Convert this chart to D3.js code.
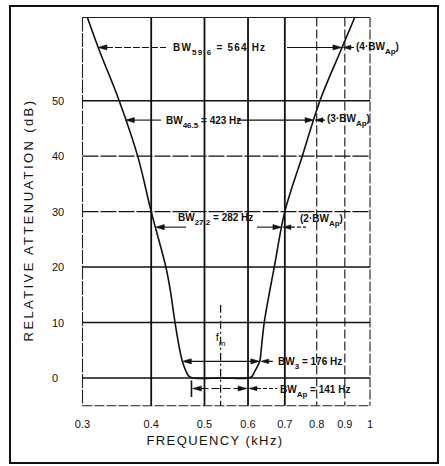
<!DOCTYPE html>
<html>
<head>
<meta charset="utf-8">
<script src="https://cdn.jsdelivr.net/npm/d3@7"></script>
<style>
  html, body { margin: 0; padding: 0; background: #fff; }
  svg { display: block; }
  text { font-family: "Liberation Sans", Arial, sans-serif; fill: #111; }
</style>
</head>
<body>
<svg id="chart" width="445" height="466"></svg>
<script>
// ---------- data ----------
const curveFreq  = [0.3062, 0.3218, 0.3498, 0.378, 0.400, 0.4254, 0.433, 0.442, 0.4509, 0.4557, 0.4628, 0.4686, 0.476, 0.540, 0.6018, 0.6102, 0.6172, 0.6302, 0.6339, 0.6421, 0.658, 0.6697, 0.700, 0.7531, 0.8109, 0.8852, 0.938];
const curveAtten = [65,     59.1,   50,     40,    30,    20,     16,    10,    5,      3,      1.2,    0.3,    0,     0,     0,      0.3,    1.2,    3,      5,      10,     16,    20,     30,    40,     50,     59.1,   65];

const xTickValues = [0.3, 0.4, 0.5, 0.6, 0.7, 0.8, 0.9, 1];
const xTickLabels = ["0.3", "0.4", "0.5", "0.6", "0.7", "0.8", "0.9", "1"];
const yTickValues = [0, 10, 20, 30, 40, 50];
const yTickLabels = ["0", "10", "20", "30", "40", "50"];

const bwLevels = [59.6, 46.5, 27.2, 3];
const bwLeft   = [0.320, 0.359, 0.407, 0.4557];
const bwRight  = [0.889, 0.791, 0.6915, 0.6302];
const bwSubs   = ["59.6", "46.5", "27.2", "3"];
const bwHz     = ["564", "423", "282", "176"];
const bwMult   = ["4", "3", "2", null];

const apLevel = -1.9, apLeft = 0.4735, apRight = 0.600, apHz = "141";
const fm = 0.535;

// ---------- scales ----------
const svg = d3.select("#chart");
const x = d3.scaleLog().domain([0.3, 1]).range([82.5, 370]);
const y = d3.scaleLinear().domain([-5, 65]).range([405.7, 17.5]);
const x0 = x(0.3), x1 = x(1), yT = y(65), yB = y(-5);

// outer frame
svg.append("rect").attr("x", 10).attr("y", 6).attr("width", 428).attr("height", 457)
  .attr("fill", "none").attr("stroke", "#111").attr("stroke-width", 2);

// plot frame
const frame = svg.append("g").attr("stroke", "#222").attr("fill", "none");
frame.append("line").attr("x1", x0).attr("x2", x0).attr("y1", yT).attr("y2", yB).attr("stroke-width", 1.1).attr("stroke-dasharray", "14,1.5");
frame.append("line").attr("x1", x0).attr("x2", x1).attr("y1", yT).attr("y2", yT).attr("stroke-width", 1.1);
frame.append("line").attr("x1", x1).attr("x2", x1).attr("y1", yT).attr("y2", yB).attr("stroke-width", 1.1).attr("stroke-dasharray", "10,2");
frame.append("line").attr("x1", x0).attr("x2", x1).attr("y1", yB).attr("y2", yB).attr("stroke-width", 1.1).attr("stroke-dasharray", "10,2");

// grid
const grid = svg.append("g").attr("stroke", "#111");
grid.selectAll("line.h").data(yTickValues).join("line")
  .attr("x1", x0).attr("x2", x1).attr("y1", d => y(d)).attr("y2", d => y(d))
  .attr("stroke-width", d => (d === 30 || d === 40) ? 1.2 : 1.5)
  .attr("stroke-dasharray", d => (d === 30 || d === 40) ? "16,2" : null);
grid.selectAll("line.v").data(xTickValues.filter(v => v > 0.3 && v < 1)).join("line")
  .attr("x1", d => x(d)).attr("x2", d => x(d)).attr("y1", yT).attr("y2", yB)
  .attr("stroke-width", d => d <= 0.7 ? 1.8 : 1.1)
  .attr("stroke-dasharray", d => d <= 0.7 ? null : "9,3");

// fm line
svg.append("line").attr("x1", x(fm)).attr("x2", x(fm)).attr("y1", y(13.2)).attr("y2", yB)
  .attr("stroke", "#111").attr("stroke-width", 1.2).attr("stroke-dasharray", "8,3,2,3");
const fmT = svg.append("text").attr("x", x(fm) - 5).attr("y", y(6.6)).attr("font-size", 11);
fmT.append("tspan").text("f");
fmT.append("tspan").attr("dy", 5).attr("font-size", 8).text("m");

// tick labels
svg.selectAll("text.yt").data(yTickValues).join("text")
  .attr("x", 52).attr("y", d => y(d) + 4).attr("font-size", 11).text((d, i) => yTickLabels[i]);
svg.selectAll("text.xt").data(xTickValues).join("text")
  .attr("x", d => x(d)).attr("y", 428).attr("text-anchor", "middle").attr("font-size", 11)
  .text((d, i) => xTickLabels[i]);

// axis titles
svg.append("text").attr("transform", "translate(33,220) rotate(-90)").attr("text-anchor", "middle")
  .attr("font-size", 13).attr("letter-spacing", 2.4).text("RELATIVE ATTENUATION (dB)");
svg.append("text").attr("x", 215).attr("y", 445).attr("text-anchor", "middle")
  .attr("font-size", 13).attr("letter-spacing", 1.4).text("FREQUENCY (kHz)");

// curve
const line = d3.line().x((d, i) => x(curveFreq[i])).y(d => y(d)).curve(d3.curveCatmullRom.alpha(0.5));
svg.append("path").attr("d", line(curveAtten)).attr("fill", "none").attr("stroke", "#111").attr("stroke-width", 1.6);

// ---------- annotations ----------
const ann = svg.append("g").attr("stroke", "#111").attr("fill", "#111");
function head(tip, yy, dir, len = 9, hw = 2.6) {
  ann.append("path").attr("d", `M${tip},${yy}L${tip - dir * len},${yy - hw}L${tip - dir * len},${yy + hw}Z`).attr("stroke-width", 0.5);
}
function seg(a, b, yy, dash) {
  ann.append("line").attr("x1", a).attr("x2", b).attr("y1", yy).attr("y2", yy)
    .attr("stroke-width", 1.1).attr("stroke-dasharray", dash || null);
}
function bwText(px, py, sub, rest, fs = 10) {
  const t = svg.append("text").attr("x", px).attr("y", py).attr("font-size", fs).attr("font-weight", "bold");
  t.append("tspan").text("BW");
  t.append("tspan").attr("dy", 4).attr("font-size", fs - 2).text(sub);
  t.append("tspan").attr("dy", -4).text(rest);
  return t;
}
function multText(px, py, m) {
  const t = svg.append("text").attr("x", px).attr("y", py).attr("font-size", 10).attr("font-weight", "bold");
  t.append("tspan").text(`(${m}·BW`);
  t.append("tspan").attr("dy", 4).attr("font-size", 8).text("Ap");
  t.append("tspan").attr("dy", -4).text(")");
}
const layout = [
  { le: 166, tx: 173, ty: 4,  rs: 287, mx: 356, my: 3, ls: 1.2, dashL: "7,2" },
  { le: 161, tx: 166, ty: 4,  rs: 237, mx: 327, my: 2, ls: 0,   dashL: null },
  { le: 186, tx: 178, ty: -6, rs: 257, mx: 300, my: -5, ls: 0,  dashL: null },
  { le: null, tx: 278, ty: 4, rs: null, mx: null, my: 0, ls: 0, dashL: null }
];
bwLevels.forEach((lv, i) => {
  const yy = y(lv), L = x(bwLeft[i]), R = x(bwRight[i]), o = layout[i];
  head(L, yy, -1);
  if (o.le !== null) {
    seg(L + 8, o.le, yy, o.dashL);
    seg(o.rs, R - 8, yy);
  } else {
    seg(L + 8, R - 8, yy);
  }
  head(R, yy, 1);
  head(R + 1, yy, -1, 8, 2.3);
  const tailEnd = o.mx !== null ? (i === 2 ? o.mx + 6 : o.mx - 2) : o.tx - 3;
  seg(R + 9, tailEnd, yy, "4,2");
  bwText(o.tx, yy + o.ty, bwSubs[i], ` = ${bwHz[i]} Hz`).attr("letter-spacing", o.ls);
  if (bwMult[i]) multText(o.mx, yy + o.my, bwMult[i]);
});

// BW Ap
{
  const yy = y(apLevel), L = x(apLeft), R = x(apRight);
  ann.append("line").attr("x1", L).attr("x2", L).attr("y1", yy - 8).attr("y2", yy + 8.5).attr("stroke-width", 1.6);
  head(L + 1, yy, -1);
  seg(L + 9, R - 8, yy, "8,3");
  head(R - 1, yy, 1);
  head(R + 1, yy, -1, 8, 2.3);
  seg(R + 9, 277, yy, "4,2");
  const t = svg.append("text").attr("x", 280).attr("y", yy + 4).attr("font-size", 10).attr("font-weight", "bold");
  t.append("tspan").text("BW");
  t.append("tspan").attr("dy", 4).attr("font-size", 8).text("Ap");
  t.append("tspan").attr("dy", -4).text(` = ${apHz} Hz`);
}
</script>
</body>
</html>
